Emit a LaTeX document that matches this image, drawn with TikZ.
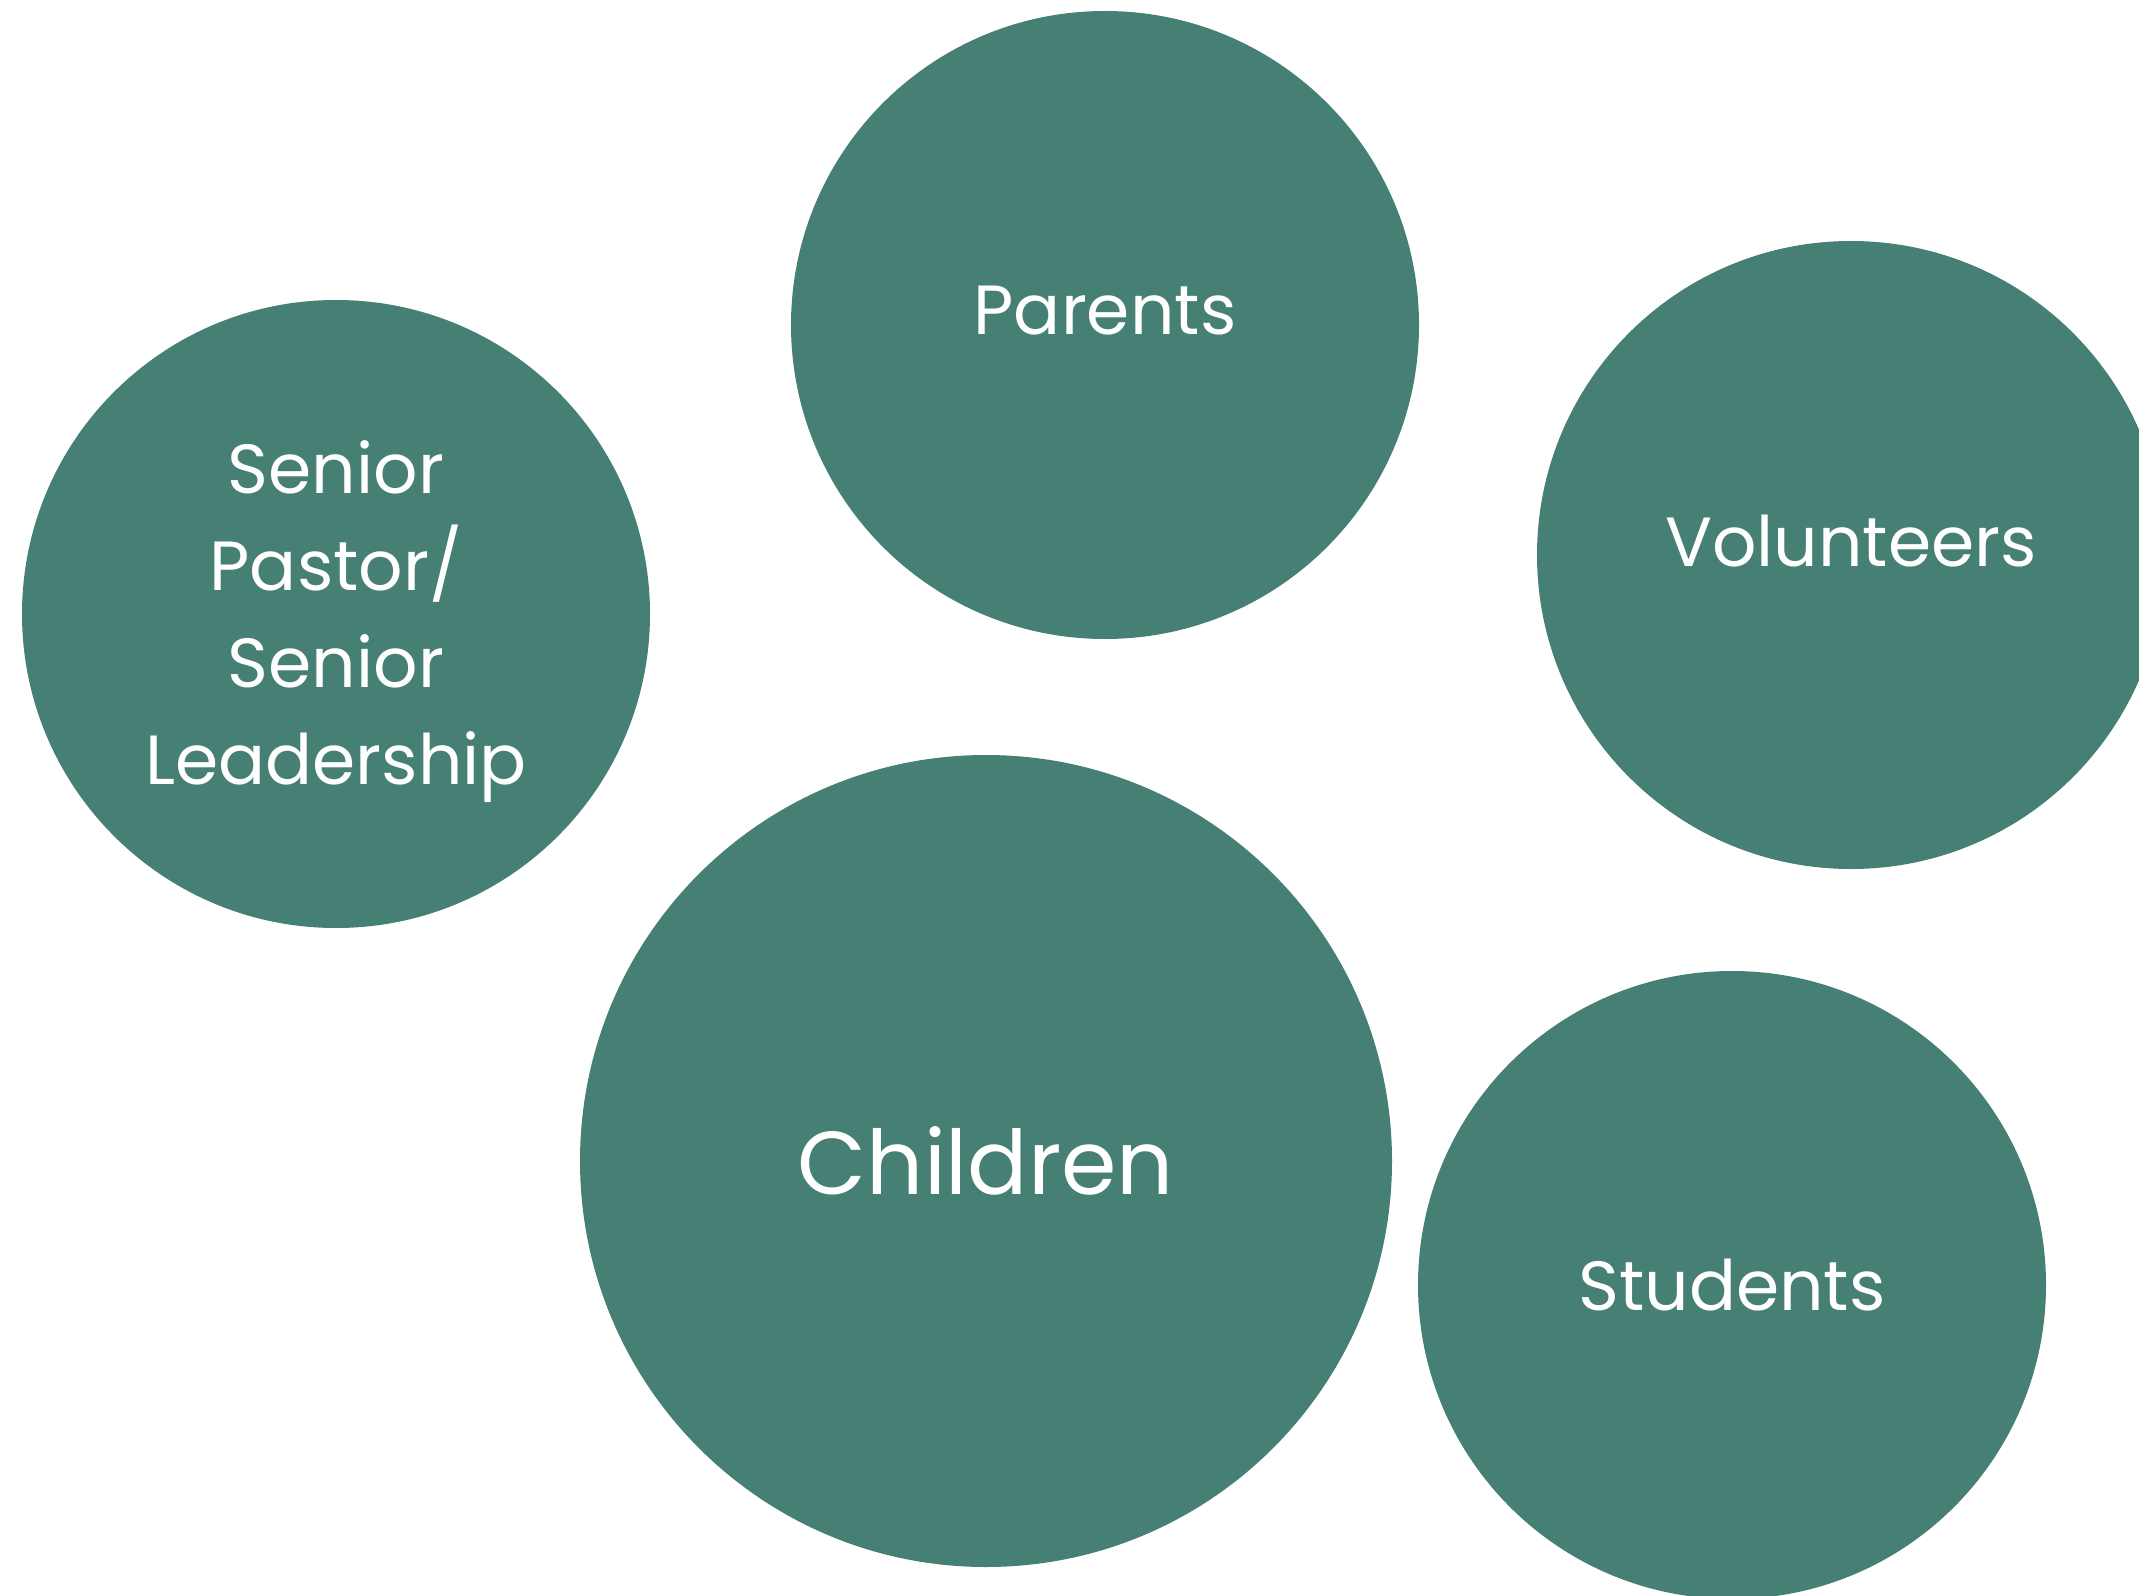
\documentclass[tikz,border=0pt]{standalone}
\usepackage{fontspec}
\setmainfont{Poppins}
\definecolor{bubblegreen}{RGB}{70,127,115}

\begin{document}
\begin{tikzpicture}[bubble/.style={circle,fill=bubblegreen,text=white,inner sep=0pt,minimum size=6.28cm,align=center,font=\fontsize{19.8}{27.6}\selectfont},
	bigbubble/.style={bubble,minimum size=8.12cm,font=\fontsize{25.4}{32}\selectfont},
	bubbletext/.style={text=white,inner sep=0pt,align=center,font=\fontsize{19.8}{27.6}\selectfont}]

\useasboundingbox (0,0) rectangle (21.39,15.95);
\clip (0,0) rectangle (21.39,15.95);

\node[bubble]   (parents)   at (11.05,12.70)   {\raisebox{0.14cm}[\height][\depth]{Parents}};
\node[bubble]   (senior)    at (3.36,9.81)     {};
\node[bubbletext]   (seniortext) at ([yshift=-0.08cm]senior.center)   {Senior\\Pastor/\\Senior\\Leadership};
\node[bubble]   (volunteers) at (18.51,10.40)  {\raisebox{0.14cm}[\height][\depth]{Volunteers}};
\node[bigbubble]   (children)  at (9.86,4.34)  {Children};
\node[bubble]   (students)  at (17.32,3.10)    {Students};

\end{tikzpicture}
\end{document}
